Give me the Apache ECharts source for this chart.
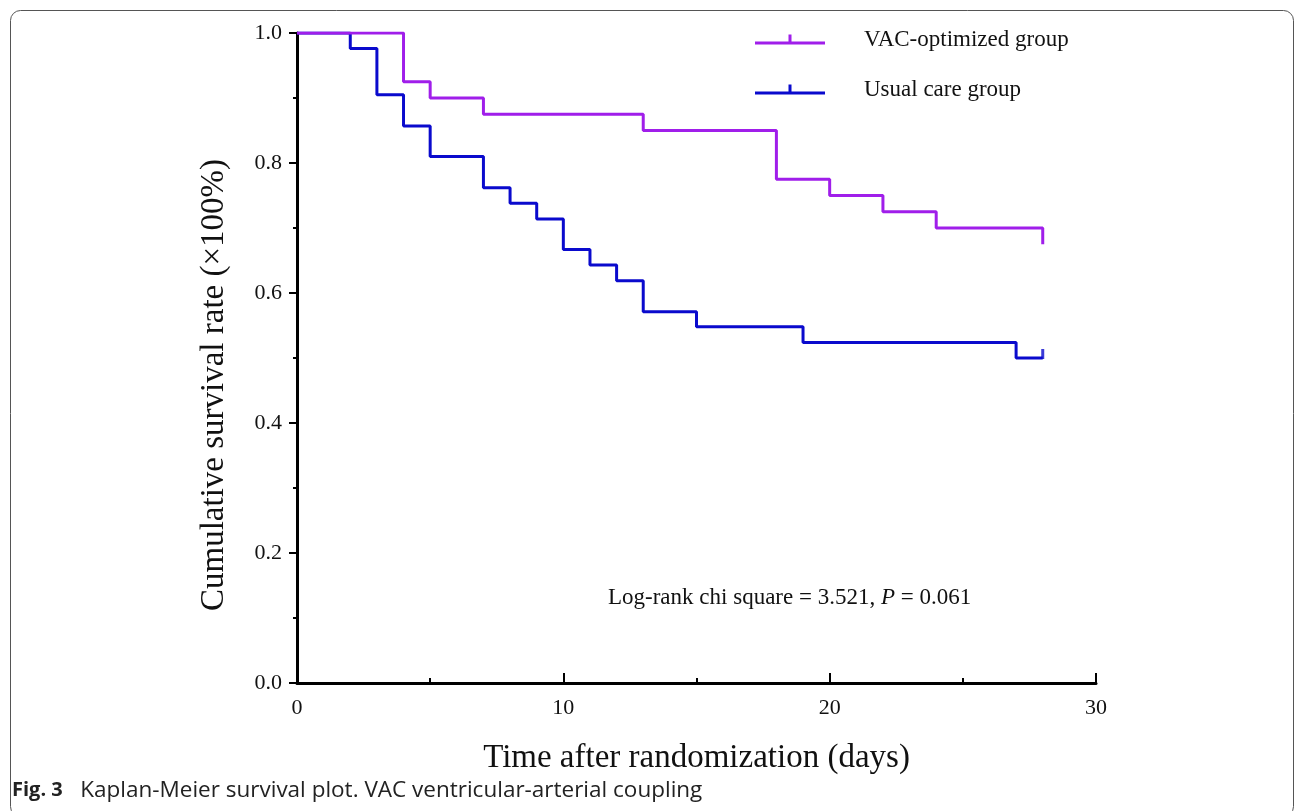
<!DOCTYPE html>
<html>
<head>
<meta charset="utf-8">
<title>Kaplan-Meier survival plot</title>
<script src="https://cdn.jsdelivr.net/npm/echarts@6/dist/echarts.min.js"></script>
<style>
  html, body { margin: 0; padding: 0; background: #fff; }
  #divChart { width: 1295px; height: 811px; }
</style>
</head>
<body>
<div id="divChart"></div>
<script>
/** 数据：生存时间（天）与累计生存率 */
var vacTime = [0, 4, 5, 7, 13, 18, 20, 22, 24, 28, 28];
var vacSurv = [1.0, 0.925, 0.9, 0.875, 0.85, 0.775, 0.75, 0.725, 0.7, 0.7, 0.675];
var usualTime = [0, 2, 3, 4, 5, 7, 8, 9, 10, 11, 12, 13, 15, 19, 27, 28];
var usualSurv = [1.0, 0.976, 0.905, 0.857, 0.81, 0.762, 0.738, 0.714, 0.667, 0.643, 0.619, 0.571, 0.548, 0.524, 0.5, 0.5];
/** 删失点 */
var usualCensor = [[28, 0.5]];

var seriesNames = ['VAC-optimized group', 'Usual care group'];
var seriesColors = ['#A01EEA', '#0A0ACD'];
var xTicks = [0, 10, 20, 30];

var serifFont = '"Liberation Serif", "DejaVu Serif", serif';
var sansFont = '"Open Sans", "Noto Sans", sans-serif';
var divChart = null;

/**
 * 把时间和生存率合成 [x, y] 对
 */
function toPairs(t, s) {
	var arr = [];
	for (var i = 0; i < t.length; i++) {
		arr.push([t[i], s[i]]);
	}
	return arr;
}

// 图例图标：横线加中间小竖线（删失标记）
var legendIcon = 'path://M0,7H70V10H0Z M33.5,0H36.5V7H33.5Z';

var option = {
	backgroundColor: '#fff',
	animation: false,
	grid: { left: 297, right: 199, top: 33, bottom: 128 },
	legend: {
		orient: 'vertical',
		left: 755,
		top: 28,
		padding: 0,
		itemWidth: 70,
		itemHeight: 10,
		itemGap: 27,
		data: [
			{ name: seriesNames[0], icon: legendIcon },
			{ name: seriesNames[1], icon: legendIcon }
		],
		textStyle: { fontFamily: serifFont, fontSize: 23, color: '#111', padding: [0, 0, 0, 34] }
	},
	xAxis: {
		type: 'value',
		min: 0,
		max: 30,
		interval: 10,
		name: 'Time after randomization (days)',
		nameLocation: 'middle',
		nameGap: 59,
		nameTextStyle: { fontFamily: serifFont, fontSize: 33, color: '#111' },
		axisLine: { show: true, lineStyle: { color: '#000', width: 3 } },
		axisTick: { show: true, inside: true, length: 10, lineStyle: { color: '#000', width: 2 } },
		minorTick: { show: true, splitNumber: 2, length: 5, lineStyle: { color: '#000', width: 2 } },
		axisLabel: {
			fontFamily: serifFont, fontSize: 22, color: '#111', margin: 14,
			formatter: function (v) { return xTicks.indexOf(v) >= 0 ? String(v) : ''; }
		},
		splitLine: { show: false }
	},
	yAxis: {
		type: 'value',
		min: 0,
		max: 1,
		interval: 0.2,
		axisLine: { show: true, lineStyle: { color: '#000', width: 3 } },
		axisTick: { show: true, length: 8, lineStyle: { color: '#000', width: 2 } },
		minorTick: { show: true, splitNumber: 2, length: 4, lineStyle: { color: '#000', width: 2 } },
		axisLabel: {
			fontFamily: serifFont, fontSize: 22, color: '#111', margin: 15,
			formatter: function (v) { return v.toFixed(1); }
		},
		splitLine: { show: false }
	},
	series: [
		{
			name: seriesNames[1],
			type: 'line',
			step: 'end',
			showSymbol: false,
			symbol: 'none',
			color: seriesColors[1],
			lineStyle: { width: 3, color: seriesColors[1] },
			data: toPairs(usualTime, usualSurv),
			z: 2
		},
		{
			name: seriesNames[1],
			type: 'scatter',
			symbol: 'rect',
			symbolSize: [3, 10],
			symbolOffset: [0, -4],
			itemStyle: { color: seriesColors[1] },
			data: usualCensor,
			z: 2
		},
		{
			name: seriesNames[0],
			type: 'line',
			step: 'end',
			showSymbol: false,
			symbol: 'none',
			color: seriesColors[0],
			lineStyle: { width: 3, color: seriesColors[0] },
			data: toPairs(vacTime, vacSurv),
			z: 3
		}
	],
	graphic: [
		{
			type: 'rect',
			shape: { x: 10.5, y: 10.5, width: 1283, height: 806, r: 10 },
			style: { fill: 'none', stroke: '#555', lineWidth: 1 },
			silent: true
		},
		{
			// 纵轴标题（比网格中心略低）
			type: 'text',
			x: 214,
			y: 385,
			rotation: Math.PI / 2,
			style: {
				text: 'Cumulative survival rate (×100%)',
				font: '33px ' + serifFont,
				fill: '#111',
				align: 'center',
				verticalAlign: 'middle'
			}
		},
		{
			type: 'text',
			left: 608,
			top: 586,
			style: {
				text: 'Log-rank chi square = 3.521, {i|P} = 0.061',
				font: '23px ' + serifFont,
				fill: '#111',
				rich: {
					i: { fontStyle: 'italic', fontSize: 23, fontFamily: serifFont, fill: '#111' }
				}
			}
		},
		{
			type: 'text',
			left: 12,
			top: 779,
			style: {
				text: '{b|Fig. 3}   Kaplan-Meier survival plot. VAC ventricular-arterial coupling',
				font: '22.5px ' + sansFont,
				fill: '#222',
				rich: {
					b: { fontWeight: 'bold', fontSize: 20, fontFamily: sansFont, fill: '#222' }
				}
			}
		}
	]
};

/**
 * 初始化图表
 */
function reloadEcharts() {
	divChart = echarts.init(document.getElementById('divChart'));
	divChart.setOption(option);
}

reloadEcharts();
</script>
</body>
</html>
